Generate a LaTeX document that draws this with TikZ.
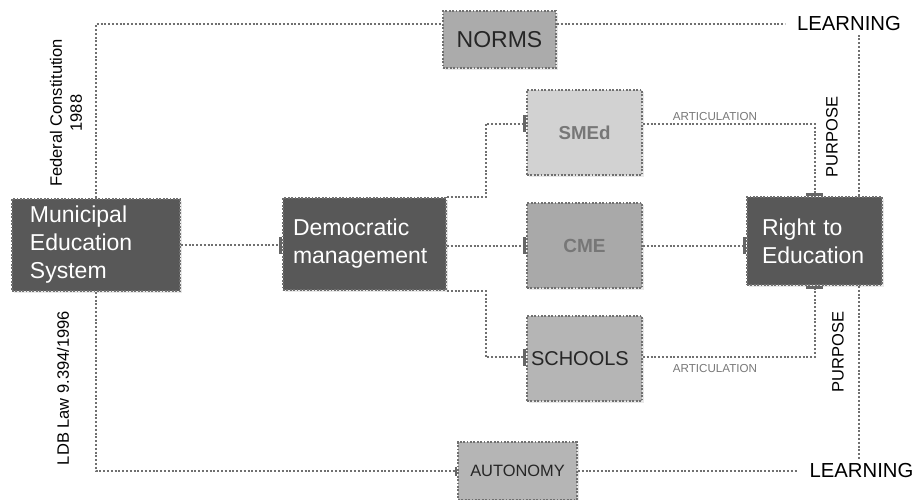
\documentclass[tikz,border=0pt]{standalone}
\usepackage{fontspec}
\setmainfont{Liberation Sans}
\usetikzlibrary{arrows.meta,shadows}

\definecolor{darkfill}{HTML}{585858}
\definecolor{normsfill}{HTML}{ABABAB}
\definecolor{smedfill}{HTML}{D2D2D2}
\definecolor{cmefill}{HTML}{A9A9A9}
\definecolor{schoolfill}{HTML}{B5B5B5}
\definecolor{linkgray}{HTML}{707070}
\definecolor{tickgray}{HTML}{666666}
\definecolor{softtext}{HTML}{777777}

\begin{document}
\begin{tikzpicture}[
  x=1pt,y=-1pt,
  box/.style={rectangle,draw=linkgray,line width=1.8pt,dash pattern=on 1.8pt off 1.6pt,
    drop shadow={opacity=0.18,shadow xshift=1.5pt,shadow yshift=-1.5pt}},
  darkbox/.style={box,fill=darkfill,text=white,align=left,font=\fontsize{23}{28}\selectfont},
  greybox/.style={box,minimum width=115pt,minimum height=85pt},
  link/.style={draw=linkgray,line width=2pt,dash pattern=on 2pt off 1.8pt},
  tick/.style={-{Bar[width=17pt,line width=3.5pt,color=tickgray]}},
  smalltick/.style={-{Bar[width=9pt,line width=2.5pt,color=tickgray]}},
  vlabel/.style={rotate=90,font=\fontsize{16.5}{20}\selectfont,align=center},
  artlabel/.style={font=\fontsize{11.6}{13}\selectfont,text=softtext,inner sep=2pt},
  endlabel/.style={font=\fontsize{20.3}{24}\selectfont,inner xsep=12pt,inner ysep=4pt}
]
\useasboundingbox (0,0) rectangle (914,499);

% main boxes
\node[darkbox,minimum height=92pt,inner xsep=18pt,text width=132pt] (muni) at (96,245)
  {Municipal\\Education\\System};
\node[darkbox,minimum height=92pt,inner xsep=10pt,text width=143pt] (demo) at (364.5,244)
  {Democratic\\management};
\node[darkbox,minimum height=88pt,inner xsep=15pt,text width=105pt] (right) at (814.5,241)
  {Right to\\Education};

\node[box,fill=normsfill,text=black!85,minimum width=113pt,minimum height=57pt,
  font=\fontsize{23}{28}\selectfont] (norms) at (499.5,39.5) {NORMS};
\node[greybox,fill=smedfill,text=softtext,font=\fontsize{18.7}{22}\selectfont\bfseries]
  (smed) at (584.5,132.5) {SMEd};
\node[greybox,fill=cmefill,text=softtext,font=\fontsize{19}{22}\selectfont\bfseries]
  (cme) at (584.5,245.5) {CME};
\node[greybox,fill=schoolfill,text=black!85,inner xsep=4pt,text width=107pt,align=left,
  font=\fontsize{20}{24}\selectfont] (school) at (584.5,358.5) {SCHOOLS};
\node[box,fill=schoolfill,text=black!85,minimum width=119pt,minimum height=58pt,
  font=\fontsize{16.4}{20}\selectfont] (auton) at (517.5,471) {AUTONOMY};

% end points
\node[endlabel] (learnTop) at (849,24) {LEARNING};
\node[endlabel] (learnBot) at (861.5,471) {LEARNING};

% legal basis and purpose labels
\node[vlabel] (constit) at (66,113) {Federal Constitution\\1988};
\node[vlabel] (ldb) at (63,388) {LDB Law 9.394/1996};
\node[vlabel] (purpTop) at (832,137) {PURPOSE};
\node[vlabel] (purpBot) at (838,352) {PURPOSE};

% outer frame
\draw[link] (muni.north) |- (norms.west |- learnTop);
\draw[link] (norms.east |- learnTop) -- (learnTop.west);
\draw[link] ([xshift=-24pt]right.north east) -- ([xshift=-24pt]right.north east |- learnTop.south);
\draw[link,smalltick] (muni.south) |- (auton.west);
\draw[link] (auton.east) -- (learnBot.west);
\draw[link] ([xshift=-24pt]right.south east) -- ([xshift=-24pt]right.south east |- learnBot.north);

% management branches
\draw[link,tick] (muni.east) -- (muni.east -| demo.west);
\draw[link,tick] (demo.north east) -- ([xshift=39pt]demo.north east) |- ([yshift=9pt]smed.west);
\draw[link,tick] (demo.east |- cme.west) -- (cme.west);
\draw[link,tick] (demo.south east) -- ([xshift=39pt]demo.south east) |- ([yshift=1.5pt]school.west);

% towards the right to education
\draw[link,tick] ([yshift=9pt]smed.east) -| (right.north)
  node[artlabel,above,pos=0.21] {ARTICULATION};
\draw[link,tick] (cme.east) -- (cme.east -| right.west);
\draw[link,tick] ([yshift=1.5pt]school.east) -| (right.south)
  node[artlabel,below,pos=0.21,yshift=-4pt] {ARTICULATION};
\end{tikzpicture}
\end{document}
